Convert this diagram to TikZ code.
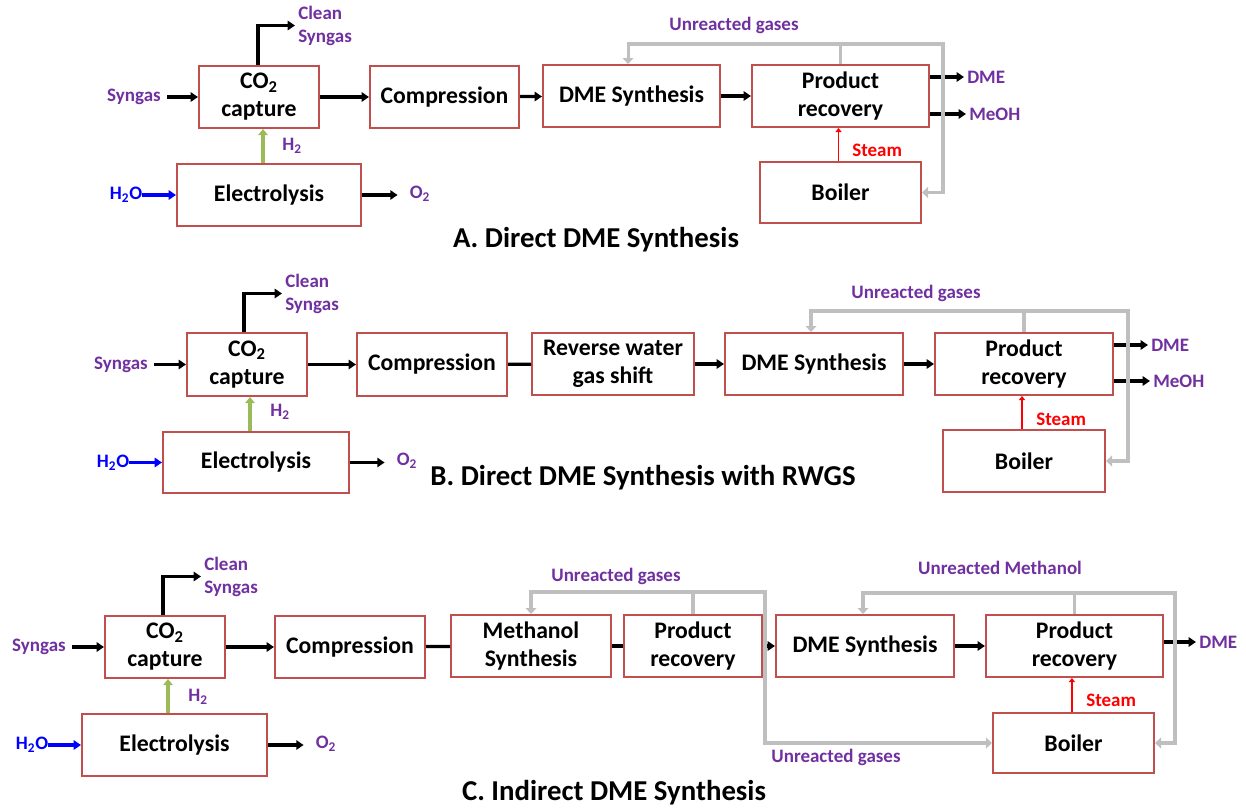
\documentclass[tikz,border=0pt]{standalone}
\usepackage{fontspec}
\setmainfont{Carlito}
\usetikzlibrary{arrows.meta,calc}
\definecolor{boxred}{HTML}{C0504D}
\definecolor{lblpurple}{HTML}{7030A0}
\definecolor{h2green}{HTML}{9BBB59}
\definecolor{recgray}{HTML}{BFBFBF}
\newcommand{\subtwo}{\textsubscript{2}}
\begin{document}
\begin{tikzpicture}[x=0.75pt,y=-0.75pt,
  box/.style={draw=boxred, line width=1.5pt, fill=white, inner sep=0pt, align=center,
    font=\fontsize{17.8}{21}\selectfont\bfseries},
  bx/.style 2 args={box, minimum width=#1*0.75pt, minimum height=#2*0.75pt},
  lbl/.style={text=lblpurple, font=\fontsize{14.25}{17.2}\selectfont\bfseries, inner sep=0pt, align=left},
  steamlbl/.style={text=red, font=\fontsize{14.25}{17.2}\selectfont\bfseries, inner sep=0pt},
  waterlbl/.style={text=blue, font=\fontsize{14.25}{17.2}\selectfont\bfseries, inner sep=0pt},
  ttl/.style={font=\fontsize{21.6}{26}\selectfont\bfseries, inner sep=0pt},
  flowarr/.style={line width=2.4pt, -{Triangle[length=5.5pt,width=7pt]}},
  plainflow/.style={line width=2.4pt},
  waterarr/.style={blue, line width=2.4pt, -{Triangle[length=5.5pt,width=7pt]}},
  h2arr/.style={h2green, line width=3pt, -{Triangle[length=4.5pt,width=7pt]}},
  steamarr/.style={red, line width=1.1pt, -{Triangle[length=3pt,width=4.5pt]}},
  recarr/.style={recgray, line width=2.3pt, -{Triangle[length=4.5pt,width=8pt]}}
]
\useasboundingbox (0,0) rectangle (1246,810);

% ================= A =================
\node[bx={120}{62}] (capA) at (259,97) {CO\subtwo\\capture};
\node[bx={149}{62}] (compA) at (444.5,97) {Compression};
\node[bx={177}{62}] (dmeA) at (631.5,96) {DME Synthesis};
\node[bx={177}{62}] (prA) at (840.5,96) {Product\\recovery};
\node[bx={184}{62}] (elecA) at (269,195) {Electrolysis};
\node[bx={161}{61}] (boilA) at (840.5,192.5) {Boiler};
\node[lbl] (synA) at (134,97) {Syngas};
\node[lbl, anchor=west] (cleanA) at (298,25.5) {Clean\\Syngas};
\node[lbl] (h2A) at (292,146) {H\subtwo};
\node[waterlbl] (h2oA) at (126,195) {H\subtwo O};
\node[lbl] (o2A) at (420,194) {O\subtwo};
\node[lbl] (unrA) at (734,25) {Unreacted gases};
\node[lbl, anchor=west] (dmeoutA) at (967,77) {DME};
\node[lbl, anchor=west] (meohA) at (969,114) {MeOH};
\node[steamlbl, anchor=west] (steamA) at (852,150) {Steam};
\node[ttl] (titleA) at (596,240) {A. Direct DME Synthesis};
\coordinate (topA) at (943,44);

\draw[flowarr] ($(synA.east)+(6,0)$) -- (capA.west);
\draw[flowarr] ([xshift=-0.75pt]capA.north) |- ($(cleanA.west)+(-3,0)$);
\draw[flowarr] (capA) -- (compA);
\draw[flowarr] (compA) -- (dmeA);
\draw[flowarr] (dmeA) -- (prA);
\draw[h2arr] ([xshift=3pt]capA.south |- elecA.north) -- ([xshift=3pt]capA.south);
\draw[waterarr] (h2oA.east) -- (elecA.west);
\draw[flowarr] (elecA.east) -- ($(o2A.west |- elecA.east)+(-12,0)$);
\draw[steamarr] ([xshift=-1.5pt]boilA.north) -- ([xshift=-1.5pt]boilA.north |- prA.south);
\draw[flowarr] (prA.east |- dmeoutA.west) -- ($(dmeoutA.west)+(-3,0)$);
\draw[flowarr] (prA.east |- meohA.west) -- ($(meohA.west)+(-3,0)$);
\draw[recarr] (prA.north) -- (prA.north |- topA) -| ([xshift=-2.6pt]dmeA.north);
\draw[recarr] (prA.north |- topA) -- (topA) |- (boilA.east);

% ================= B =================
\node[bx={120}{63}] (capB) at (247,364.5) {CO\subtwo\\capture};
\node[bx={150}{63}] (compB) at (432,364.5) {Compression};
\node[bx={162}{62}] (rwgsB) at (613,364) {Reverse water\\gas shift};
\node[bx={178}{62}] (dmeB) at (814,364) {DME Synthesis};
\node[bx={178}{62}] (prB) at (1024,364) {Product\\recovery};
\node[bx={186}{61}] (elecB) at (256,462.5) {Electrolysis};
\node[bx={162}{62}] (boilB) at (1024,461) {Boiler};
\node[lbl] (synB) at (121,364.5) {Syngas};
\node[lbl, anchor=west] (cleanB) at (285,293.5) {Clean\\Syngas};
\node[lbl] (h2B) at (280,412) {H\subtwo};
\node[waterlbl] (h2oB) at (113,462.5) {H\subtwo O};
\node[lbl] (o2B) at (407,461) {O\subtwo};
\node[lbl] (unrB) at (916,293) {Unreacted gases};
\node[lbl, anchor=west] (dmeoutB) at (1151,345) {DME};
\node[lbl, anchor=west] (meohB) at (1153,381) {MeOH};
\node[steamlbl, anchor=west] (steamB) at (1036,419) {Steam};
\node[ttl] (titleB) at (643,478) {B. Direct DME Synthesis with RWGS};
\coordinate (topB) at (1128,311);

\draw[flowarr] ($(synB.east)+(6,0)$) -- (capB.west);
\draw[flowarr] ([xshift=-2.25pt]capB.north) |- ($(cleanB.west)+(-3,0)$);
\draw[flowarr] (capB) -- (compB);
\draw[plainflow] (compB) -- (rwgsB);
\draw[flowarr] (rwgsB) -- (dmeB);
\draw[flowarr] (dmeB) -- (prB);
\draw[h2arr] ([xshift=2.25pt]capB.south |- elecB.north) -- ([xshift=2.25pt]capB.south);
\draw[waterarr] (h2oB.east) -- (elecB.west);
\draw[flowarr] (elecB.east) -- ($(o2B.west |- elecB.east)+(-12,0)$);
\draw[steamarr] ([xshift=-1.5pt]boilB.north) -- ([xshift=-1.5pt]boilB.north |- prB.south);
\draw[flowarr] (prB.east |- dmeoutB.west) -- ($(dmeoutB.west)+(-3,0)$);
\draw[flowarr] (prB.east |- meohB.west) -- ($(meohB.west)+(-3,0)$);
\draw[recarr] (prB.north) -- (prB.north |- topB) -| ([xshift=-2.25pt]dmeB.north);
\draw[recarr] (prB.north |- topB) -- (topB) |- (boilB.east);

% ================= C =================
\node[bx={120}{62}] (capC) at (165,647) {CO\subtwo\\capture};
\node[bx={150}{62}] (compC) at (350,647) {Compression};
\node[bx={160}{62}] (methC) at (531,646) {Methanol\\Synthesis};
\node[bx={138}{62}] (pronC) at (693,646) {Product\\recovery};
\node[bx={178}{62}] (dmeC) at (865,646) {DME Synthesis};
\node[bx={177}{62}] (prtwoC) at (1074.5,646) {Product\\recovery};
\node[bx={185}{62}] (elecC) at (174.5,745) {Electrolysis};
\node[bx={161}{60}] (boilC) at (1073.5,743) {Boiler};
\node[lbl] (synC) at (39,647) {Syngas};
\node[lbl, anchor=west] (cleanC) at (204,576.5) {Clean\\Syngas};
\node[lbl] (h2C) at (198,697) {H\subtwo};
\node[waterlbl] (h2oC) at (32,745) {H\subtwo O};
\node[lbl] (o2C) at (326,744) {O\subtwo};
\node[lbl] (unrCa) at (616,576) {Unreacted gases};
\node[lbl] (unrCb) at (836,757) {Unreacted gases};
\node[lbl] (unrMeC) at (1000,568) {Unreacted Methanol};
\node[lbl, anchor=west] (dmeoutC) at (1199,642) {DME};
\node[steamlbl, anchor=west] (steamC) at (1086,700) {Steam};
\node[ttl] (titleC) at (614,793) {C. Indirect DME Synthesis};
\coordinate (topCa) at (765,592);
\coordinate (topCb) at (1175,593);

\draw[flowarr] ($(synC.east)+(6,0)$) -- (capC.west);
\draw[flowarr] ([xshift=-1.5pt]capC.north) |- ($(cleanC.west)+(-3,0)$);
\draw[flowarr] (capC) -- (compC);
\draw[plainflow] (compC) -- (methC);
\draw[plainflow] (methC) -- (pronC);
\draw[flowarr] (pronC) -- (dmeC);
\draw[flowarr] (dmeC) -- (prtwoC);
\draw[h2arr] ([xshift=2.25pt]capC.south |- elecC.north) -- ([xshift=2.25pt]capC.south);
\draw[waterarr] (h2oC.east) -- (elecC.west);
\draw[flowarr] (elecC.east) -- ($(o2C.west |- elecC.east)+(-12,0)$);
\draw[steamarr] ([xshift=-1.2pt]boilC.north) -- ([xshift=-1.2pt]boilC.north |- prtwoC.south);
\draw[flowarr] (prtwoC.east |- dmeoutC.west) -- ($(dmeoutC.west)+(-3,0)$);
\draw[recarr] (pronC.north) -- (pronC.north |- topCa) -| (methC.north);
\draw[recarr] (pronC.north |- topCa) -- (topCa) |- (boilC.west);
\draw[recarr] (prtwoC.north) -- (prtwoC.north |- topCb) -| ([xshift=-1.5pt]dmeC.north);
\draw[recarr] (prtwoC.north |- topCb) -- (topCb) |- (boilC.east);
\end{tikzpicture}
\end{document}
